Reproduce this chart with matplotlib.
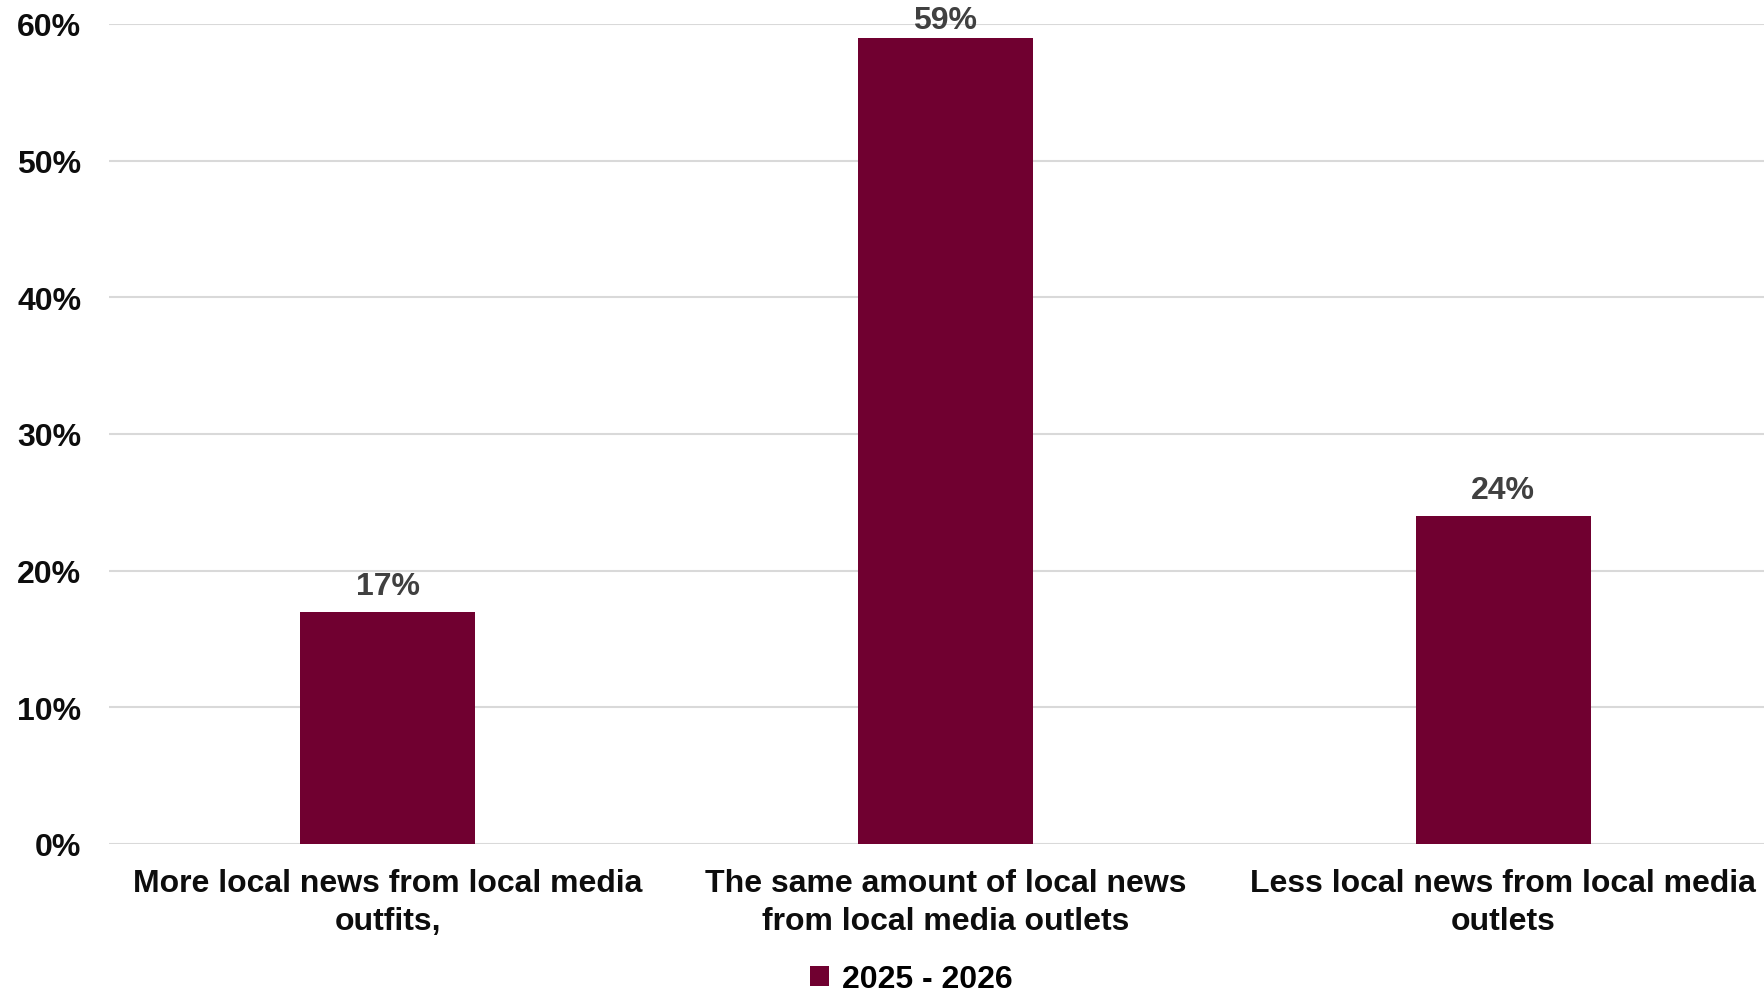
import matplotlib.pyplot as plt
from matplotlib.ticker import PercentFormatter

categories = ["More local news from local media\noutfits,",
              "The same amount of local news\nfrom local media outlets",
              "Less local news from local media\noutlets"]
values = [0.17, 0.59, 0.24]
series_name = "2025 - 2026"
yticks = [0, 0.1, 0.2, 0.3, 0.4, 0.5, 0.6]

bar_color = "#700030"
plt.rcParams["font.family"] = ["Liberation Sans", "DejaVu Sans"]
plt.rcParams["font.weight"] = "bold"

fig = plt.figure(figsize=(17.64, 9.95), dpi=100)
ax = fig.add_axes([109 / 1764, 1 - 845 / 995, (1782 - 109) / 1764, (845 - 25) / 995])

x = range(len(categories))
bars = ax.bar(x, values, width=0.314, color=bar_color, label=series_name, zorder=3)
for b, v in zip(bars, values):
    # label near the top gets squeezed down so it stays inside the figure
    off = 2 if v > 0.55 else 8
    ax.annotate(f"{v:.0%}", (b.get_x() + b.get_width() / 2, v), xytext=(0, off),
                textcoords="offset points", ha="center", va="bottom",
                fontsize=23, fontweight="bold", color="#404040")

ax.set_xlim(-0.5, 2.5)
ax.set_ylim(0, 0.6)
ax.set_yticks(yticks)
ax.yaxis.set_major_formatter(PercentFormatter(1.0, decimals=0))
ax.set_xticks(list(x))
ax.set_xticklabels(categories, fontsize=23, fontweight="bold", linespacing=1.36)
ax.tick_params(axis="y", length=0, pad=20, labelsize=23, labelcolor="#0d0d0d")
ax.tick_params(axis="x", length=0, pad=17, labelcolor="#0d0d0d")
ax.grid(axis="y", color="#d9d9d9", linewidth=1.5, zorder=0)
for s in ax.spines.values():
    s.set_visible(False)

fig.legend(handles=[bars], labels=[series_name], loc="center",
           bbox_to_anchor=(911 / 1764, 1 - 980 / 995), frameon=False,
           fontsize=23, handlelength=0.6, handleheight=0.6, handletextpad=0.4)

fig.savefig("out.png", dpi=100, facecolor="white")
